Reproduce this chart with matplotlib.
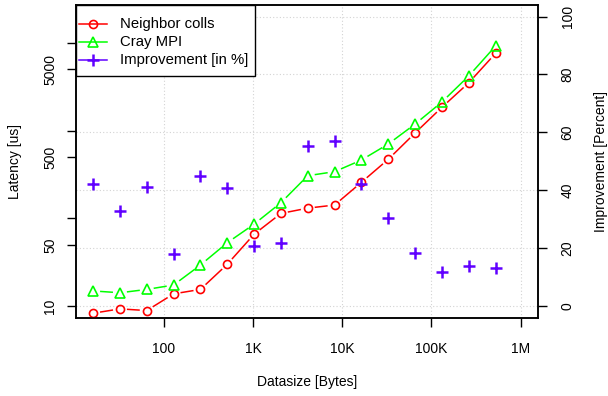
import numpy as np
import matplotlib
matplotlib.use("Agg")
import matplotlib.pyplot as plt
from matplotlib.lines import Line2D
from matplotlib.patches import Rectangle
from matplotlib.transforms import blended_transform_factory

plt.rcParams['font.family'] = ['Liberation Sans', 'DejaVu Sans']

# data sizes in bytes (16 B .. 512 KB)
datasize = [16, 32, 64, 128, 256, 512, 1024, 2048, 4096, 8192,
            16384, 32768, 65536, 131072, 262144, 524288]
neighbor_colls = [8.3, 9.3, 8.9, 13.8, 15.5, 30, 66, 114, 131, 142,
                  258, 472, 942, 1850, 3520, 7630]
cray_mpi = [14.9, 14.2, 15.5, 17.4, 29.4, 52.8, 86, 151, 307, 341,
            463, 705, 1190, 2125, 4210, 9250]
improvement = [42.2, 32.9, 41.1, 18.0, 45.0, 40.9, 20.9, 21.9, 55.4, 57.0,
               42.1, 30.3, 18.5, 11.7, 13.7, 13.1]

x_ticks = [100, 1000, 10000, 100000, 1000000]
x_labels = ['100', '1K', '10K', '100K', '1M']
lat_ticks = [10, 50, 100, 500, 1000, 5000, 10000]
lat_labels = ['10', '50', '', '500', '', '5000', '']
pct_ticks = [0, 20, 40, 60, 80, 100]
legend_labels = ['Neighbor colls', 'Cray MPI', 'Improvement [in %]']

RED = '#FF0000'
GREEN = '#00FF00'
VIOLET = '#6000FF'
W, H = 608, 396


def gapped_line(ax, xs, ys, color, gap=7.0):
    # R type="b": line segments stop short of the points
    pts = ax.transData.transform(np.column_stack([xs, ys]))
    inv = ax.transData.inverted()
    for p0, p1 in zip(pts[:-1], pts[1:]):
        d = p1 - p0
        L = np.hypot(*d)
        if L <= 2 * gap:
            continue
        u = d / L
        a = inv.transform(p0 + u * gap)
        b = inv.transform(p1 - u * gap)
        ax.plot([a[0], b[0]], [a[1], b[1]], color=color, lw=1.1,
                solid_capstyle='butt', zorder=3)


fig = plt.figure(figsize=(W / 100, H / 100), dpi=100)
left, right, top, bottom = 76, 537.7, 5, 317.7
ax = fig.add_axes([left / W, (H - bottom) / H, (right - left) / W, (bottom - top) / H])
ax.set_xscale('log')
ax.set_yscale('log')
ax.set_xlim(16 / 10 ** (0.04 * np.log10(1e6 / 16)), 1e6 * 10 ** (0.04 * np.log10(1e6 / 16)))
ax.set_ylim(10 / 10 ** (0.04 * np.log10(2000)), 20000 * 10 ** (0.04 * np.log10(2000)))

ax2 = ax.twinx()
ax2.set_ylim(-4, 104)

# grid (R grid() on the second plot's coordinates)
for xv in x_ticks:
    ax.axvline(xv, color='#d3d3d3', lw=0.8, ls=(0, (1, 2)), zorder=1)
hz = blended_transform_factory(ax.transAxes, ax2.transData)
for yv in pct_ticks:
    ax.plot([0, 1], [yv, yv], transform=hz, color='#d3d3d3', lw=0.8,
            ls=(0, (1, 2)), zorder=1)

gapped_line(ax, datasize, neighbor_colls, RED)
gapped_line(ax, datasize, cray_mpi, GREEN)
ax.plot(datasize, neighbor_colls, ls='none', marker='o', ms=5.8, mfc='none',
        mec=RED, mew=1.2, zorder=4)
ax.plot(datasize, cray_mpi, ls='none', marker='^', ms=7, mfc='none',
        mec=GREEN, mew=1.2, zorder=4)
ax2.plot(datasize, improvement, ls='none', marker='+', ms=9, mec=VIOLET,
         mew=1.8, zorder=4)

ax.set_xticks(x_ticks)
ax.set_xticklabels(x_labels)
ax.xaxis.set_minor_locator(matplotlib.ticker.NullLocator())
ax.set_yticks(lat_ticks)
ax.set_yticklabels(lat_labels)
ax.yaxis.set_minor_locator(matplotlib.ticker.NullLocator())
ax2.set_yticks(pct_ticks)

for a in (ax, ax2):
    a.tick_params(direction='out', length=6.5, width=1, labelsize=10,
                  colors='#000000')
    for s in a.spines.values():
        s.set_linewidth(1.1)
ax.tick_params(axis='x', pad=11)
ax.tick_params(axis='y', pad=7)
ax2.tick_params(axis='y', pad=10)
for lab in ax.get_yticklabels() + ax2.get_yticklabels():
    lab.set_rotation(90)
    lab.set_va('center')

ax.set_xlabel('Datasize [Bytes]', fontsize=10, labelpad=14)
ax.set_ylabel('Latency [us]', fontsize=10, labelpad=15)
ax2.set_ylabel('Improvement [Percent]', fontsize=10, labelpad=14)

# legend box drawn like R's legend(): frame, line + symbol, label
axw, axh = right - left, bottom - top
def fx(px):
    return (px - left) / axw
def fy(py):
    return (bottom - py) / axh

ax2.add_patch(Rectangle((0, fy(76)), fx(254.5), 1 - fy(76), transform=ax2.transAxes,
                        facecolor='white', edgecolor='black', lw=1.0, zorder=10,
                        clip_on=False))
styles = [dict(color=RED, marker='o', ms=5.8, mfc='none', mew=1.2),
          dict(color=GREEN, marker='^', ms=7, mfc='none', mew=1.2),
          dict(color=VIOLET, marker='+', ms=9, mew=1.8)]
for i, (lab, st) in enumerate(zip(legend_labels, styles)):
    yy = fy(24 + 18.1 * i)
    ax2.add_line(Line2D([fx(79), fx(107)], [yy, yy], lw=1.1, transform=ax2.transAxes,
                        zorder=11, color=st['color']))
    ax2.add_line(Line2D([fx(93)], [yy], ls='none', transform=ax2.transAxes, zorder=12,
                        marker=st['marker'], ms=st['ms'], mfc=st.get('mfc', st['color']),
                        mec=st['color'], mew=st['mew']))
    ax2.text(fx(120), yy, lab, transform=ax2.transAxes, fontsize=10.7,
             va='center', ha='left', zorder=12)

fig.savefig('out.png', dpi=100)
